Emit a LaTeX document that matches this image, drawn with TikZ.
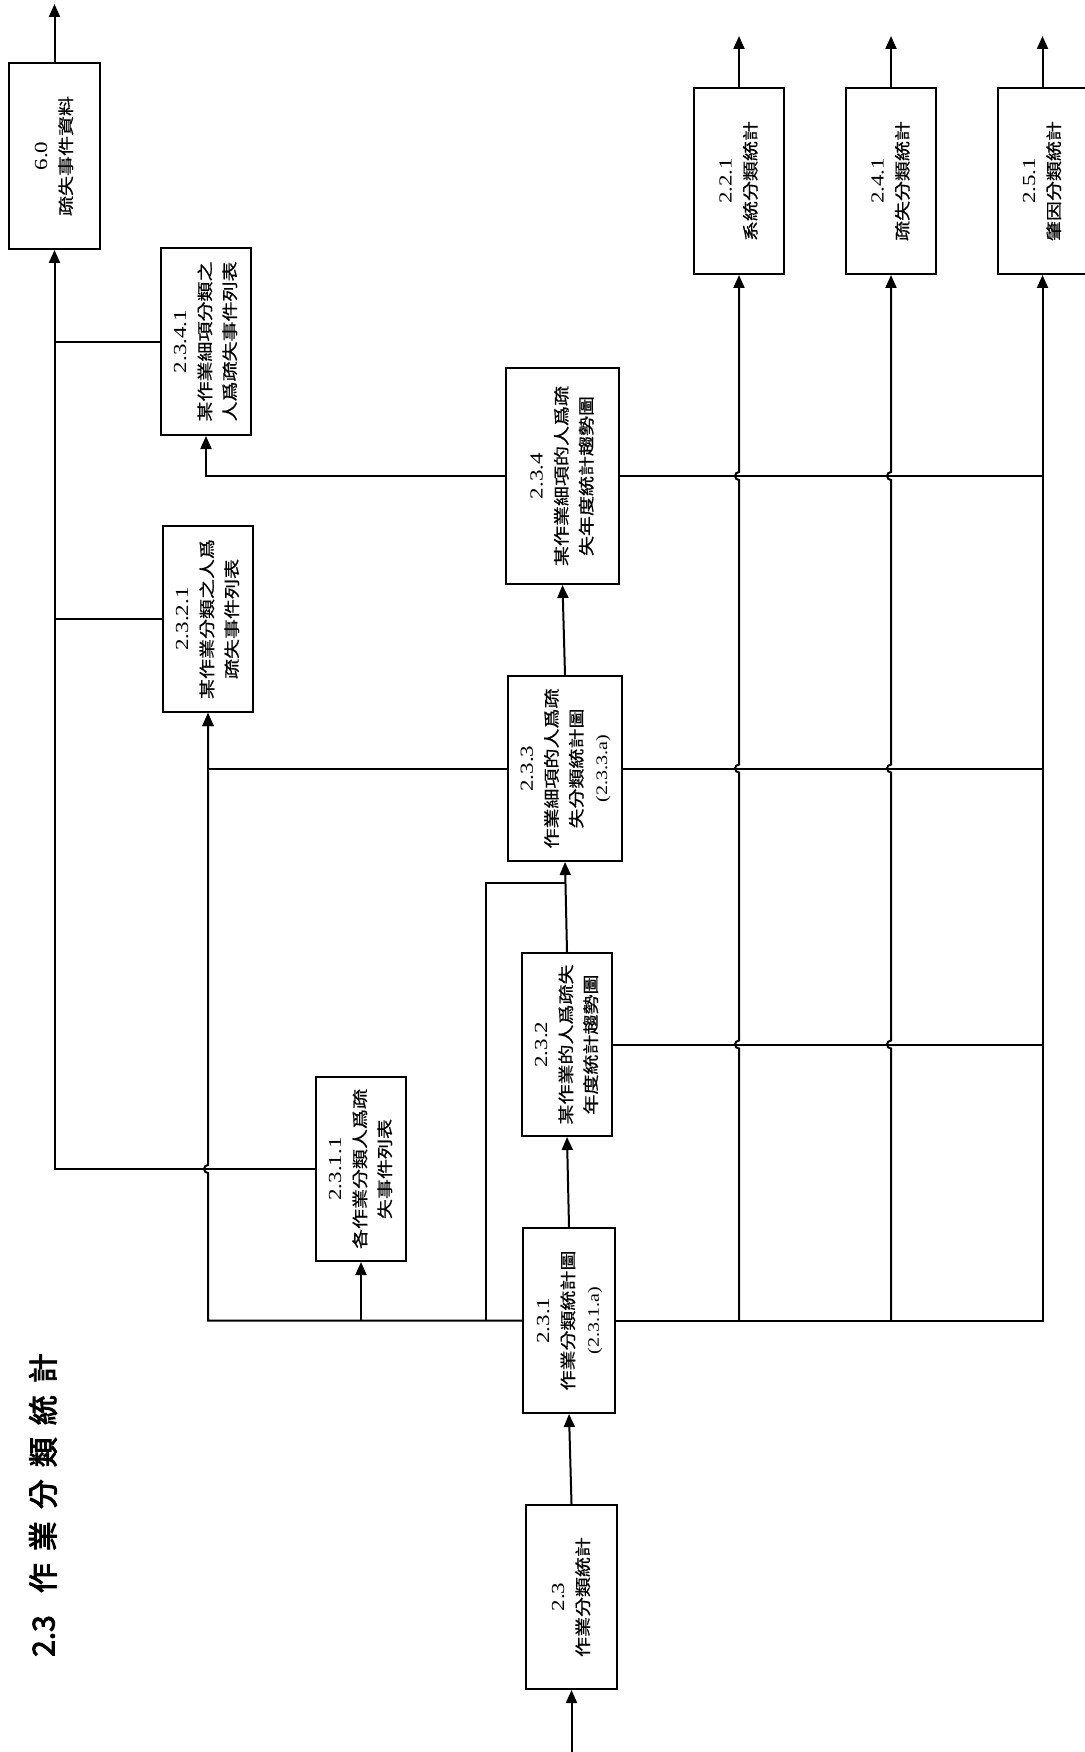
\documentclass[tikz,border=0pt]{standalone}
\usepackage{fontspec}
\usepackage{graphicx}
\usepackage{array}
\setmainfont{Liberation Serif}
\newfontfamily\cjk[FakeBold=0.6]{Noto Sans CJK TC}
\newfontfamily\cjkb[FakeBold=3]{Noto Sans CJK TC}
\usepackage{tikz}
\usetikzlibrary{positioning,arrows.meta,calc}
% box text: number line, then chinese lines, turned up the page
\newcommand{\vlab}[2]{\rotatebox{90}{\scalebox{1}[0.8]{\begin{tabular}{@{}>{\cjk}c@{}}{\rmfamily\fontsize{23}{31}\selectfont #1}\\#2\end{tabular}}}}
\begin{document}
\begin{tikzpicture}[x=1pt,y=-1pt,>={Triangle[length=13pt,width=11pt]},line width=2pt,
  every node/.style={font=\fontsize{20}{31}\selectfont}]
\tikzstyle{blk}=[draw,inner sep=0pt,line width=2pt,minimum width=90pt,minimum height=186pt]
\useasboundingbox (0,0) rectangle (1084,1752);
\node[rotate=90,font=\cjkb\fontsize{30}{30}\selectfont] (title) at (43,1505) {2.3\hspace{22pt}作\hspace{12pt}業\hspace{12pt}分\hspace{12pt}類\hspace{12pt}統\hspace{12pt}計};
\node[blk,minimum width=91pt] (s60) at (54.5,156) {\vlab{6.0}{疏失事件資料}};
\node[blk,minimum height=187pt] (s2341) at (206,341.5) {\vlab{2.3.4.1}{某作業細項分類之\\人爲疏失事件列表}};
\node[blk] (s2321) at (208,619) {\vlab{2.3.2.1}{某作業分類之人爲\\疏失事件列表}};
\node[blk,minimum height=184pt] (s2311) at (361,1169) {\vlab{2.3.1.1}{各作業分類人爲疏\\失事件列表}};
\node[blk,minimum width=113pt,minimum height=216pt] (s234) at (562.5,476) {\vlab{2.3.4}{某作業細項的人爲疏\\失年度統計趨勢圖}};
\node[blk,minimum width=114pt,minimum height=185pt] (s233) at (565,768.5) {\vlab{2.3.3}{作業細項的人爲疏\\失分類統計圖\\{\rmfamily (2.3.3.a)}}};
\node[blk,minimum height=183pt] (s232) at (567,1044.5) {\vlab{2.3.2}{某作業的人爲疏失\\年度統計趨勢圖}};
\node[blk,minimum width=92pt,minimum height=185pt] (s231) at (569,1320.5) {\vlab{2.3.1}{作業分類統計圖\\{\rmfamily (2.3.1.a)}}};
\node[blk,minimum width=91pt,minimum height=184pt] (s23) at (571.5,1597) {\vlab{2.3}{作業分類統計}};
\node[blk] (s221) at (739,181) {\vlab{2.2.1}{系統分類統計}};
\node[blk,right=60pt of s221] (s241) {\vlab{2.4.1}{疏失分類統計}};
\node[blk,right=59.5pt of s241] (s251) {\vlab{2.5.1}{肇因分類統計}};
\coordinate (in23) at (571.5,1752);
\coordinate (top60) at (0,4);
\coordinate (top) at (0,36);
\coordinate (jn) at (486,883);
% main column
\draw[->] (in23) -- (s23.south);
\draw[->] (s23.north) -- (s231.south);
\draw[->] (s231.north) -- (s232.south);
\draw[->] (s232.north) -- (s233.south);
\draw[->] (s233.north) -- (s234.south);
\draw (s231.west -| jn) -- (jn) -- (jn -| s233.south);
% outputs
\draw[->] (s60.north) -- (s60.north |- top60);
\foreach \n in {s221,s241,s251} \draw[->] (\n.north) -- (\n.north |- top);
% right side
\draw[->] (s231.east) -| (s251.south);
\foreach \n in {s234,s233,s232} \draw (\n.east) -- (\n.east -| s251);
\foreach \m in {s221,s241}
  \draw[->] (s231.east -| \m) \foreach \n in {s232,s233,s234}{ -- ($(\n.east -| \m)+(0,4)$) arc[start angle=90,end angle=270,radius=4] } -- (\m.south);
% left side
\draw[->] (s234.west) -| (s2341.south);
\draw[->] (s233.west) -| (s2321.south);
\draw[->] (s231.west) -- (s231.west -| s2321) -- ($(s2311.west -| s2321)+(0,4)$) arc[start angle=90,end angle=270,radius=4] -- (s2321.south);
\draw[->] (s231.west -| s2311) -- (s2311.south);
\draw[->] (s2311.west) -| (s60.south);
\draw (s2341.west) -- (s2341.west -| s60);
\draw (s2321.west) -- (s2321.west -| s60);
\end{tikzpicture}
\end{document}
